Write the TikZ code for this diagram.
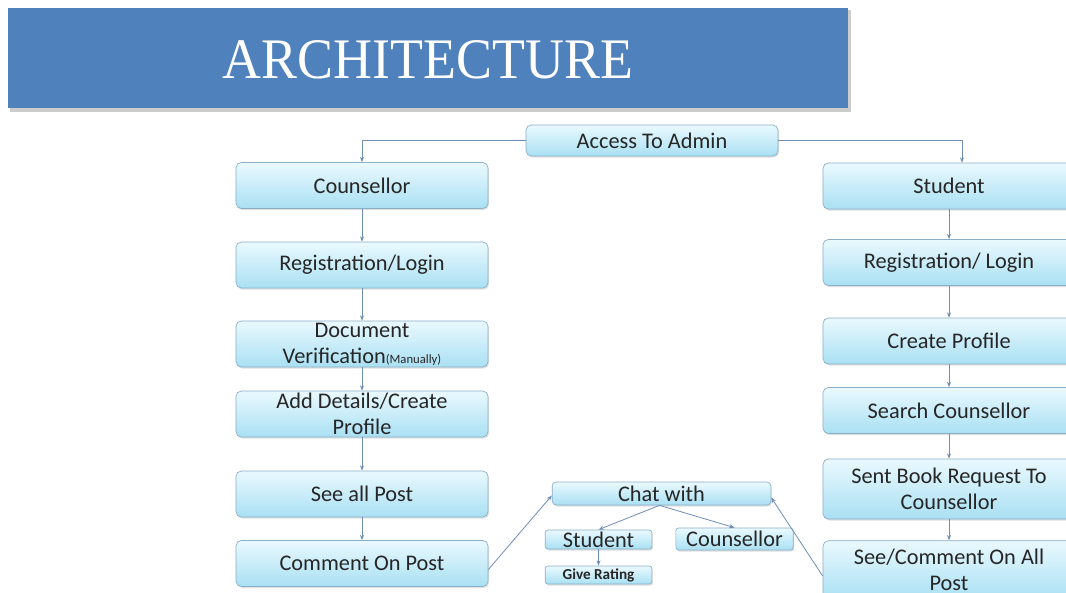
\documentclass[tikz,border=0pt]{standalone}
\usepackage{fontspec}
\setmainfont{Carlito}
\newfontfamily\titlefont{Liberation Serif}
\usetikzlibrary{shadows,arrows.meta}
\definecolor{titleblue}{HTML}{4F81BD}
\definecolor{boxtop}{HTML}{EAF9FE}
\definecolor{boxbot}{HTML}{A9E0F3}
\definecolor{boxline}{HTML}{8AAFC8}
\definecolor{linkcol}{HTML}{6E8EB4}
\tikzset{
  fbox/.style={draw=boxline, line width=0.5pt, rounded corners=4pt, top color=boxtop, bottom color=boxbot,
     drop shadow={opacity=0.25, shadow xshift=0.8pt, shadow yshift=-1.2pt},
     align=center, inner sep=0pt, font=\fontsize{16.75}{19.5}\selectfont, text=black!85},
  bigbox/.style={fbox, minimum width=189pt, minimum height=34.5pt},
  link/.style={draw=linkcol, line width=0.6pt, -{Stealth[length=4pt,width=3pt]}},
}
\begin{document}
\begin{tikzpicture}[x=0.75pt,y=-0.75pt]
\useasboundingbox (0,0) rectangle (1066,592);
\fill[white] (0,0) rectangle (1066,592);
% title
\fill[black!20] (10,10) rectangle (851,112);
\node[fill=titleblue, minimum width=630pt, minimum height=75pt, inner sep=0pt, anchor=north west] (title) at (8,8) {};
\node[text=white, font=\titlefont\fontsize{43}{43}\selectfont] (ttext) at (428,60) {\scalebox{0.94}[1]{ARCHITECTURE}};
% top
\node[fbox, minimum width=189pt, minimum height=23.25pt] (admin) at (652,140.5) {Access To Admin};
% left column
\node[bigbox] (lc) at (362,185.5) {Counsellor};
\node[bigbox] (lreg) at (362,265) {Registration/Login};
\node[bigbox] (ldoc) at (362,344) {Document\\Verification{\fontsize{9.5}{10}\selectfont(Manually)}};
\node[bigbox] (ladd) at (362,414) {Add Details/Create\\Profile};
\node[bigbox] (lsee) at (362,494) {See all Post};
\node[bigbox] (lcom) at (362,563.5) {Comment On Post};
% right column
\node[bigbox] (rs) at (949,186) {Student};
\node[bigbox] (rreg) at (949,262.5) {Registration/ Login};
\node[bigbox] (rcp) at (949,341) {Create Profile};
\node[bigbox] (rsc) at (949,410.5) {Search Counsellor};
\node[bigbox, minimum height=45pt] (rsb) at (949,489) {Sent Book Request To\\Counsellor};
\node[bigbox, minimum height=44pt] (rsee) at (949,570) {See/Comment On All\\Post};
% chat
\node[fbox, minimum width=164pt, minimum height=17.25pt, rounded corners=3pt] (chat) at (661.5,493.5) {Chat with};
\node[fbox, minimum width=80pt, minimum height=14.25pt, rounded corners=2pt] (cs) at (598.5,539.5) {Student};
\node[fbox, minimum width=88pt, minimum height=16.5pt, rounded corners=2pt] (cc) at (734.5,539) {Counsellor};
\node[fbox, minimum width=80pt, minimum height=13.5pt, rounded corners=2pt, font=\bfseries\fontsize{11.4}{12}\selectfont] (gr) at (598.5,575) {Give Rating};
% connectors
\draw[link] (admin.west) -| (lc.north);
\draw[link] (admin.east) -| ([xshift=13*0.75pt]rs.north);
\draw[link] (lc) -- (lreg);
\draw[link] (lreg) -- (ldoc);
\draw[link] (ldoc) -- (ladd);
\draw[link] (ladd) -- (lsee);
\draw[link] (lsee) -- (lcom);
\draw[link] (rs) -- (rreg);
\draw[link] (rreg) -- (rcp);
\draw[link] (rcp) -- (rsc);
\draw[link] (rsc) -- (rsb);
\draw[link] (rsb) -- (rsee);
\draw[link] ([yshift=-6*0.75pt]lcom.east) -- ([yshift=-2*0.75pt]chat.west);
\draw[link] ([yshift=-6*0.75pt]rsee.west) -- ([yshift=-4*0.75pt]chat.east);
\coordinate (chb) at ([xshift=-2*0.75pt]chat.south);
\draw[link] (chb) -- (cs.north);
\draw[link] (chb) -- (cc.north);
\draw[link] (cs) -- (gr);
\end{tikzpicture}
\end{document}
